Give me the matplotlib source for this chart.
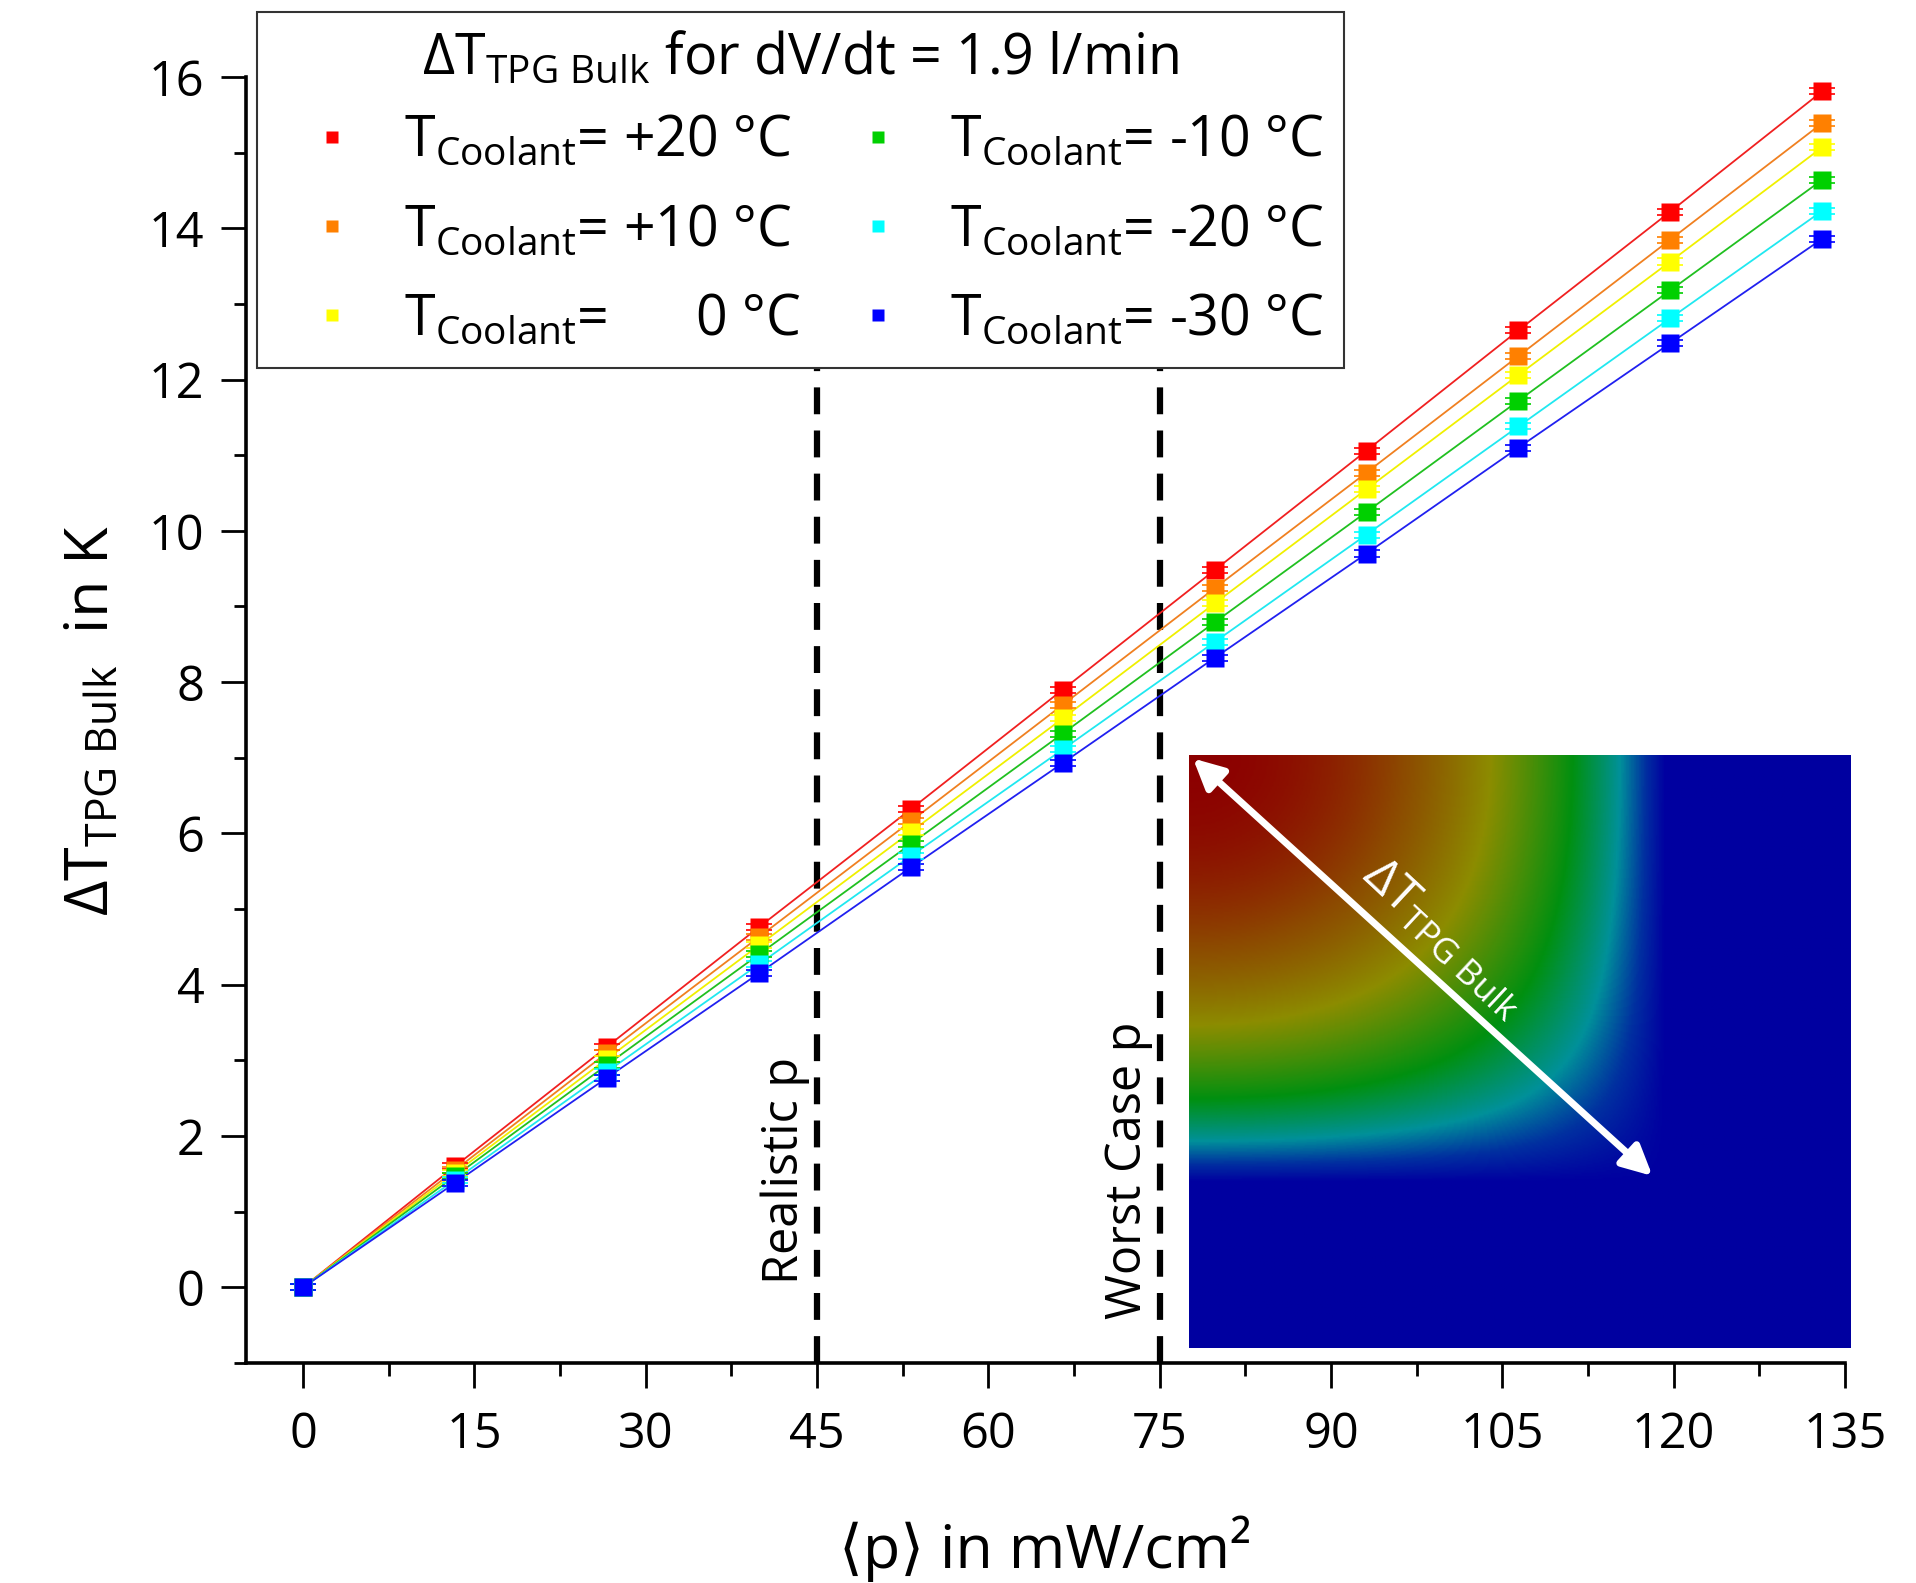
import matplotlib.pyplot as plt
import numpy as np
from matplotlib.lines import Line2D
from matplotlib.colors import LinearSegmentedColormap
from matplotlib.ticker import MultipleLocator

plt.rcParams['font.family'] = ['Open Sans', 'DejaVu Sans']
plt.rcParams['mathtext.fontset'] = 'custom'
plt.rcParams['mathtext.rm'] = 'Open Sans'
plt.rcParams['mathtext.it'] = 'Open Sans:italic'
plt.rcParams['mathtext.bf'] = 'Open Sans:bold'

# power density <p> in mW/cm^2
p = [0, 13.3, 26.6, 39.9, 53.2, 66.5, 79.8, 93.1, 106.4, 119.7, 133.0]

# Delta T TPG bulk in K, one list per coolant temperature
dt_p20 = [0, 1.60, 3.18, 4.76, 6.32, 7.90, 9.48, 11.06, 12.65, 14.22, 15.81]
dt_p10 = [0, 1.55, 3.10, 4.63, 6.16, 7.70, 9.24, 10.77, 12.31, 13.85, 15.39]
dt_0 = [0, 1.51, 3.02, 4.52, 6.02, 7.52, 9.04, 10.55, 12.06, 13.56, 15.07]
dt_m10 = [0, 1.47, 2.94, 4.40, 5.86, 7.32, 8.79, 10.25, 11.72, 13.18, 14.64]
dt_m20 = [0, 1.42, 2.85, 4.27, 5.70, 7.11, 8.53, 9.95, 11.38, 12.81, 14.23]
dt_m30 = [0, 1.38, 2.77, 4.15, 5.55, 6.93, 8.32, 9.70, 11.10, 12.48, 13.86]

err_y = [0.04, 0.04, 0.04, 0.04, 0.04, 0.04, 0.04, 0.04, 0.04, 0.04, 0.04]
err_x = [0.6, 0.6, 0.6, 0.6, 0.6, 0.6, 0.6, 0.6, 0.6, 0.6, 0.6]

series = [dt_p20, dt_p10, dt_0, dt_m10, dt_m20, dt_m30]
labels = [
    r'T$_{\mathrm{Coolant}}$= +20 °C',
    r'T$_{\mathrm{Coolant}}$= +10 °C',
    r'T$_{\mathrm{Coolant}}$=      0 °C',
    r'T$_{\mathrm{Coolant}}$= -10 °C',
    r'T$_{\mathrm{Coolant}}$= -20 °C',
    r'T$_{\mathrm{Coolant}}$= -30 °C',
]
colors = ['#FF0000', '#FF8000', '#FFFF00', '#00D000', '#00FFFF', '#0000FF']
line_colors = ['#F02020', '#F08020', '#F0F000', '#20C020', '#20E8F0', '#2020F0']

realistic_p = 45
worst_case_p = 75

fig = plt.figure(figsize=(19.16, 15.83), dpi=100)
ax = fig.add_axes([0.1284, 0.139, 0.8346, 0.8124])

for y, c, lc in zip(series, colors, line_colors):
    ax.plot(p, y, color=lc, lw=1.3, zorder=2)
    ax.errorbar(p, y, yerr=err_y, fmt='none', ecolor=c, elinewidth=1,
                capsize=9.5, capthick=1.2, zorder=3)
    ax.errorbar(p, y, xerr=err_x, fmt='none', ecolor=c, elinewidth=1.2,
                capsize=0, zorder=3)
    ax.plot(p, y, 's', color=c, ms=12.5, mec='none', zorder=4)

dash = dict(color='black', lw=4.5, dashes=(4.3, 2.6), zorder=1)
ax.axvline(realistic_p, **dash)
ax.axvline(worst_case_p, **dash)
ax.text(realistic_p - 0.6, 0.05, 'Realistic p', rotation=90, fontsize=35,
        ha='right', va='bottom')
ax.text(worst_case_p - 0.6, -0.42, 'Worst Case p', rotation=90, fontsize=35,
        ha='right', va='bottom')

ax.set_xlim(-5, 135)
ax.set_ylim(-1, 16)
ax.xaxis.set_major_locator(MultipleLocator(15))
ax.xaxis.set_minor_locator(MultipleLocator(7.5))
ax.yaxis.set_major_locator(MultipleLocator(2))
ax.yaxis.set_minor_locator(MultipleLocator(1))
ax.spines['top'].set_visible(False)
ax.spines['right'].set_visible(False)
for s in ['left', 'bottom']:
    ax.spines[s].set_linewidth(2.6)
ax.tick_params(which='major', length=18, width=2, labelsize=35, direction='out')
ax.tick_params(which='minor', length=9, width=2, direction='out')
ax.tick_params(axis='x', which='major', pad=16)
ax.tick_params(axis='y', which='major', pad=12)

ax.set_xlabel('⟨p⟩ in mW/cm²', fontsize=44, labelpad=40)
ax.set_ylabel(r'ΔT$_{\mathrm{TPG\ Bulk}}$  in K', fontsize=44, labelpad=20)

handles = [Line2D([], [], ls='none', marker='s', ms=9, color=c, mec='none')
           for c in colors]
leg = ax.legend(handles, labels, ncol=2, fontsize=40,
                title=r'ΔT$_{\mathrm{TPG\ Bulk}}$ for dV/dt = 1.9 l/min',
                title_fontsize=40, loc='upper left',
                bbox_to_anchor=(257 / 1916, 1 - 12 / 1583),
                bbox_transform=fig.transFigure, borderaxespad=0,
                handletextpad=0.3, columnspacing=0.4, labelspacing=0.58,
                borderpad=0.35, fancybox=False, framealpha=1,
                edgecolor='#333333')
leg.get_frame().set_linewidth(1.5)
leg._legend_box.sep = 18

# inset: simulated temperature field
ax_in = fig.add_axes([0.6206, 0.1485, 0.3455, 0.3746])
hot_frac = 0.72
n = 400
u = np.linspace(0, 1, n)
xx, yy = np.meshgrid(u, u)
fx = np.clip(1 - (xx / hot_frac) ** 2, 0, 1)
fy = np.clip(1 - (yy / hot_frac) ** 2, 0, 1)
field = fx * fy
field[(xx > hot_frac) | (yy > hot_frac)] = 0
cmap = LinearSegmentedColormap.from_list('sim', [
    (0.0, '#0000A0'), (0.08, '#0030A0'), (0.18, '#00909A'), (0.35, '#009010'),
    (0.6, '#8C8C00'), (0.8, '#8C4A00'), (1.0, '#8C0000')])
ax_in.imshow(field, cmap=cmap, extent=[0, 1, 0, 1], origin='upper',
             aspect='auto', vmin=0, vmax=1)
ax_in.set_xlim(0, 1)
ax_in.set_ylim(0, 1)
ax_in.axis('off')
ax_in.annotate('', xy=(0.006, 0.994), xytext=(0.70, 0.29),
               arrowprops=dict(arrowstyle='<|-|>', color='white', lw=5,
                               mutation_scale=45, shrinkA=0, shrinkB=0))
ax_in.text(0.385, 0.69, r'ΔT$_{\mathrm{TPG\ Bulk}}$', rotation=-43,
           color='white', fontsize=36, ha='center', va='center',
           rotation_mode='anchor')

fig.savefig('out.png', dpi=100)
